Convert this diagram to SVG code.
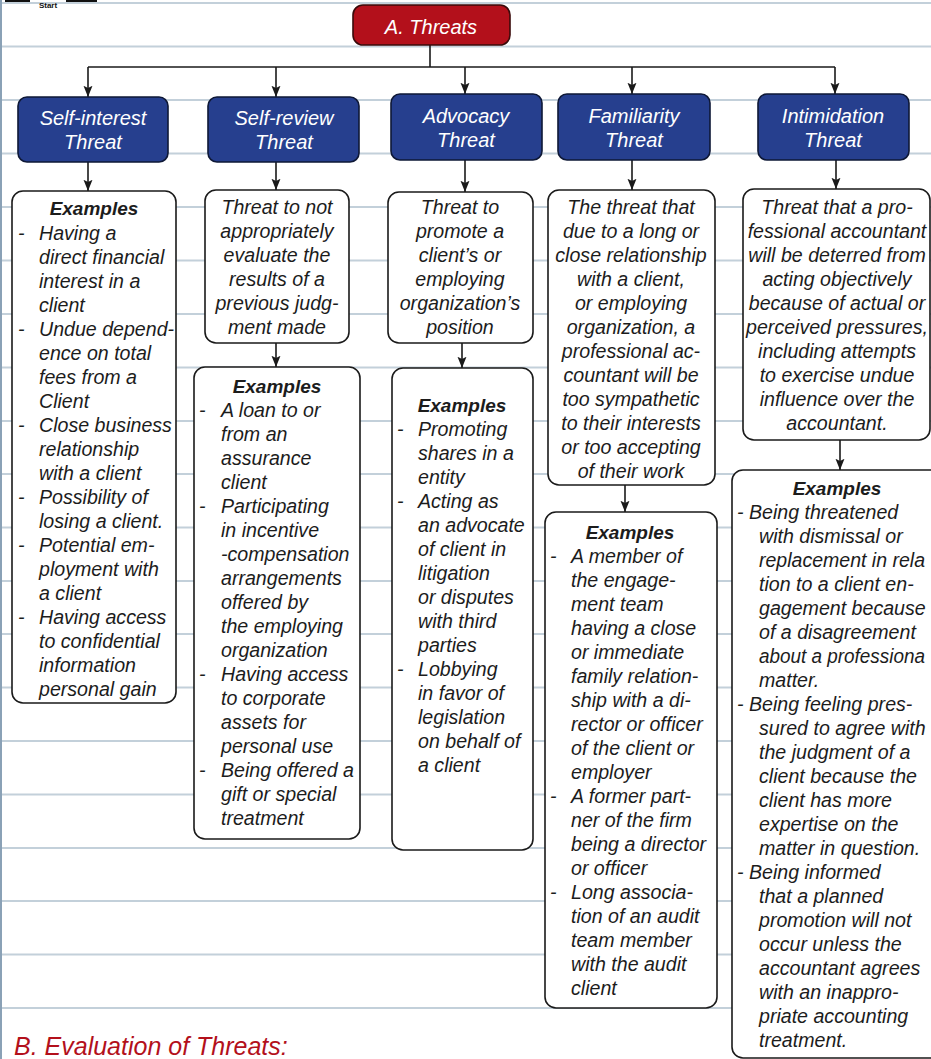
<svg xmlns="http://www.w3.org/2000/svg" width="931" height="1059" viewBox="0 0 931 1059">
<defs>
<style>
.bg{stroke:#c3d0da;stroke-width:2}
.t{font-family:"Liberation Sans",Arial,sans-serif;font-style:italic;font-size:19.6px;fill:#1c1c1c}
.c{text-anchor:middle}
.h{font-weight:bold;font-size:19px}
.w{font-family:"Liberation Sans",Arial,sans-serif;font-style:italic;font-size:20px;fill:#ffffff;text-anchor:middle}
.box{fill:#ffffff;stroke:#1a1a1a;stroke-width:1.6}
.blue{fill:#263f8e;stroke:#0e1836;stroke-width:1.6}
.red{fill:#b3101b;stroke:#3a0a0a;stroke-width:1.6}
.con{stroke:#1a1a1a;stroke-width:1.6;fill:none}
</style>
<marker id="ad" markerUnits="userSpaceOnUse" markerWidth="12" markerHeight="16" refX="15" refY="6" orient="auto" viewBox="0 0 16 12">
<path d="M0,0 L15,6 L0,12 L3,6 Z" fill="#1a1a1a"/>
</marker>
</defs>
<rect x="0" y="0" width="931" height="1059" fill="#ffffff"/>
<g id="background">
<line class="bg" x1="0" y1="3" x2="931" y2="3"/>
<line class="bg" x1="0" y1="46.5" x2="931" y2="46.5"/>
<line class="bg" x1="0" y1="100" x2="931" y2="100"/>
<line class="bg" x1="0" y1="153.5" x2="931" y2="153.5"/>
<line class="bg" x1="0" y1="207" x2="931" y2="207"/>
<line class="bg" x1="0" y1="260.5" x2="931" y2="260.5"/>
<line class="bg" x1="0" y1="314" x2="931" y2="314"/>
<line class="bg" x1="0" y1="367.5" x2="931" y2="367.5"/>
<line class="bg" x1="0" y1="421" x2="931" y2="421"/>
<line class="bg" x1="0" y1="474" x2="931" y2="474"/>
<line class="bg" x1="0" y1="527.5" x2="931" y2="527.5"/>
<line class="bg" x1="0" y1="581" x2="931" y2="581"/>
<line class="bg" x1="0" y1="634" x2="931" y2="634"/>
<line class="bg" x1="0" y1="687.5" x2="931" y2="687.5"/>
<line class="bg" x1="0" y1="741" x2="931" y2="741"/>
<line class="bg" x1="0" y1="794.5" x2="931" y2="794.5"/>
<line class="bg" x1="0" y1="848" x2="931" y2="848"/>
<line class="bg" x1="0" y1="901" x2="931" y2="901"/>
<line class="bg" x1="0" y1="954.5" x2="931" y2="954.5"/>
<line class="bg" x1="0" y1="1008" x2="931" y2="1008"/>
<line x1="1" y1="0" x2="1" y2="1059" stroke="#8aa1b6" stroke-width="2"/>
<line x1="5" y1="1" x2="30" y2="1" stroke="#111" stroke-width="2"/>
<line x1="66" y1="1" x2="97" y2="1" stroke="#111" stroke-width="2"/>
<text x="48" y="8" font-family="Liberation Sans,Arial,sans-serif" font-size="8" font-weight="bold" text-anchor="middle" fill="#111">Start</text>
</g>
<g id="connectors">
<path class="con" d="M430,45 V67"/>
<path class="con" d="M88,67 H835"/>
<path class="con" d="M88,67 V97" marker-end="url(#ad)"/>
<path class="con" d="M276,67 V97" marker-end="url(#ad)"/>
<path class="con" d="M465,67 V94" marker-end="url(#ad)"/>
<path class="con" d="M632,67 V94" marker-end="url(#ad)"/>
<path class="con" d="M835,67 V94" marker-end="url(#ad)"/>
<path class="con" d="M88,162 V191" marker-end="url(#ad)"/>
<path class="con" d="M276,162 V190" marker-end="url(#ad)"/>
<path class="con" d="M465,160 V192" marker-end="url(#ad)"/>
<path class="con" d="M632,160 V190" marker-end="url(#ad)"/>
<path class="con" d="M836,160 V189" marker-end="url(#ad)"/>
<path class="con" d="M276,343 V367" marker-end="url(#ad)"/>
<path class="con" d="M462,343 V368" marker-end="url(#ad)"/>
<path class="con" d="M625,485 V512" marker-end="url(#ad)"/>
<path class="con" d="M840,440 V470" marker-end="url(#ad)"/>
</g>
<g id="threats">
<rect class="red" x="353" y="5" width="157" height="40" rx="10"/>
<text class="w" x="431" y="34">A. Threats</text>
</g>
<g id="self-interest">
<rect class="blue" x="18" y="97" width="150" height="65" rx="9"/>
<text class="w" x="93" y="125">Self-interest</text>
<text class="w" x="93" y="149">Threat</text>
</g>
<g id="self-review">
<rect class="blue" x="208" y="97" width="151" height="65" rx="9"/>
<text class="w" x="284" y="125">Self-review</text>
<text class="w" x="284" y="149">Threat</text>
</g>
<g id="advocacy">
<rect class="blue" x="391" y="94" width="151" height="66" rx="9"/>
<text class="w" x="466" y="123">Advocacy</text>
<text class="w" x="466" y="147">Threat</text>
</g>
<g id="familiarity">
<rect class="blue" x="558" y="94" width="152" height="66" rx="9"/>
<text class="w" x="634" y="123">Familiarity</text>
<text class="w" x="634" y="147">Threat</text>
</g>
<g id="intimidation">
<rect class="blue" x="758" y="94" width="151" height="66" rx="9"/>
<text class="w" x="833" y="123">Intimidation</text>
<text class="w" x="833" y="147">Threat</text>
</g>
<g id="self-interest-examples">
<rect class="box" x="12" y="191" width="164" height="512" rx="11"/>
<text class="t h c" x="94" y="215">Examples</text>
<text class="t" x="18" y="240">-</text><text class="t" x="39" y="240">Having a</text>
<text class="t" x="39" y="264">direct financial</text>
<text class="t" x="39" y="288">interest in a</text>
<text class="t" x="39" y="312">client</text>
<text class="t" x="18" y="336">-</text><text class="t" x="39" y="336">Undue depend-</text>
<text class="t" x="39" y="360">ence on total</text>
<text class="t" x="39" y="384">fees from a</text>
<text class="t" x="39" y="408">Client</text>
<text class="t" x="18" y="432">-</text><text class="t" x="39" y="432">Close business</text>
<text class="t" x="39" y="456">relationship</text>
<text class="t" x="39" y="480">with a client</text>
<text class="t" x="18" y="504">-</text><text class="t" x="39" y="504">Possibility of</text>
<text class="t" x="39" y="528">losing a client.</text>
<text class="t" x="18" y="552">-</text><text class="t" x="39" y="552">Potential em-</text>
<text class="t" x="39" y="576">ployment with</text>
<text class="t" x="39" y="600">a client</text>
<text class="t" x="18" y="624">-</text><text class="t" x="39" y="624">Having access</text>
<text class="t" x="39" y="648">to confidential</text>
<text class="t" x="39" y="672">information</text>
<text class="t" x="39" y="696">personal gain</text>
</g>
<g id="self-review-definition">
<rect class="box" x="205" y="190" width="144" height="153" rx="11"/>
<text class="t c" x="277" y="214">Threat to not</text>
<text class="t c" x="277" y="238">appropriately</text>
<text class="t c" x="277" y="262">evaluate the</text>
<text class="t c" x="277" y="286">results of a</text>
<text class="t c" x="277" y="310">previous judg-</text>
<text class="t c" x="277" y="334">ment made</text>
</g>
<g id="self-review-examples">
<rect class="box" x="194" y="367" width="166" height="472" rx="11"/>
<text class="t h c" x="277" y="393">Examples</text>
<text class="t" x="199" y="417">-</text><text class="t" x="221" y="417">A loan to or</text>
<text class="t" x="221" y="441">from an</text>
<text class="t" x="221" y="465">assurance</text>
<text class="t" x="221" y="489">client</text>
<text class="t" x="199" y="513">-</text><text class="t" x="221" y="513">Participating</text>
<text class="t" x="221" y="537">in incentive</text>
<text class="t" x="221" y="561">-compensation</text>
<text class="t" x="221" y="585">arrangements</text>
<text class="t" x="221" y="609">offered by</text>
<text class="t" x="221" y="633">the employing</text>
<text class="t" x="221" y="657">organization</text>
<text class="t" x="199" y="681">-</text><text class="t" x="221" y="681">Having access</text>
<text class="t" x="221" y="705">to corporate</text>
<text class="t" x="221" y="729">assets for</text>
<text class="t" x="221" y="753">personal use</text>
<text class="t" x="199" y="777">-</text><text class="t" x="221" y="777">Being offered a</text>
<text class="t" x="221" y="801">gift or special</text>
<text class="t" x="221" y="825">treatment</text>
</g>
<g id="advocacy-definition">
<rect class="box" x="388" y="192" width="145" height="151" rx="11"/>
<text class="t c" x="460" y="214">Threat to</text>
<text class="t c" x="460" y="238">promote a</text>
<text class="t c" x="460" y="262">client’s or</text>
<text class="t c" x="460" y="286">employing</text>
<text class="t c" x="460" y="310">organization’s</text>
<text class="t c" x="460" y="334">position</text>
</g>
<g id="advocacy-examples">
<rect class="box" x="392" y="368" width="141" height="482" rx="11"/>
<text class="t h c" x="462" y="412">Examples</text>
<text class="t" x="397" y="436">-</text><text class="t" x="418" y="436">Promoting</text>
<text class="t" x="418" y="460">shares in a</text>
<text class="t" x="418" y="484">entity</text>
<text class="t" x="397" y="508">-</text><text class="t" x="418" y="508">Acting as</text>
<text class="t" x="418" y="532">an advocate</text>
<text class="t" x="418" y="556">of client in</text>
<text class="t" x="418" y="580">litigation</text>
<text class="t" x="418" y="604">or disputes</text>
<text class="t" x="418" y="628">with third</text>
<text class="t" x="418" y="652">parties</text>
<text class="t" x="397" y="676">-</text><text class="t" x="418" y="676">Lobbying</text>
<text class="t" x="418" y="700">in favor of</text>
<text class="t" x="418" y="724">legislation</text>
<text class="t" x="418" y="748">on behalf of</text>
<text class="t" x="418" y="772">a client</text>
</g>
<g id="familiarity-definition">
<rect class="box" x="548" y="190" width="167" height="295" rx="11"/>
<text class="t c" x="631" y="214">The threat that</text>
<text class="t c" x="631" y="238">due to a long or</text>
<text class="t c" x="631" y="262">close relationship</text>
<text class="t c" x="631" y="286">with a client,</text>
<text class="t c" x="631" y="310">or employing</text>
<text class="t c" x="631" y="334">organization, a</text>
<text class="t c" x="631" y="358">professional ac-</text>
<text class="t c" x="631" y="382">countant will be</text>
<text class="t c" x="631" y="406">too sympathetic</text>
<text class="t c" x="631" y="430">to their interests</text>
<text class="t c" x="631" y="454">or too accepting</text>
<text class="t c" x="631" y="478">of their work</text>
</g>
<g id="familiarity-examples">
<rect class="box" x="545" y="512" width="172" height="496" rx="11"/>
<text class="t h c" x="630" y="539">Examples</text>
<text class="t" x="550" y="563">-</text><text class="t" x="571" y="563">A member of</text>
<text class="t" x="571" y="587">the engage-</text>
<text class="t" x="571" y="611">ment team</text>
<text class="t" x="571" y="635">having a close</text>
<text class="t" x="571" y="659">or immediate</text>
<text class="t" x="571" y="683">family relation-</text>
<text class="t" x="571" y="707">ship with a di-</text>
<text class="t" x="571" y="731">rector or officer</text>
<text class="t" x="571" y="755">of the client or</text>
<text class="t" x="571" y="779">employer</text>
<text class="t" x="550" y="803">-</text><text class="t" x="571" y="803">A former part-</text>
<text class="t" x="571" y="827">ner of the firm</text>
<text class="t" x="571" y="851">being a director</text>
<text class="t" x="571" y="875">or officer</text>
<text class="t" x="550" y="899">-</text><text class="t" x="571" y="899">Long associa-</text>
<text class="t" x="571" y="923">tion of an audit</text>
<text class="t" x="571" y="947">team member</text>
<text class="t" x="571" y="971">with the audit</text>
<text class="t" x="571" y="995">client</text>
</g>
<g id="intimidation-definition">
<rect class="box" x="743" y="189" width="187" height="251" rx="11"/>
<text class="t c" x="837" y="214">Threat that a pro-</text>
<text class="t c" x="837" y="238">fessional accountant</text>
<text class="t c" x="837" y="262">will be deterred from</text>
<text class="t c" x="837" y="286">acting objectively</text>
<text class="t c" x="837" y="310">because of actual or</text>
<text class="t c" x="837" y="334">perceived pressures,</text>
<text class="t c" x="837" y="358">including attempts</text>
<text class="t c" x="837" y="382">to exercise undue</text>
<text class="t c" x="837" y="406">influence over the</text>
<text class="t c" x="837" y="430">accountant.</text>
</g>
<g id="intimidation-examples">
<rect class="box" x="732" y="470" width="220" height="588" rx="11"/>
<text class="t h c" x="837" y="495">Examples</text>
<text class="t" x="737" y="519">- Being threatened</text>
<text class="t" x="759" y="543">with dismissal or</text>
<text class="t" x="759" y="567" textLength="166" lengthAdjust="spacingAndGlyphs">replacement in rela</text>
<text class="t" x="759" y="591">tion to a client en-</text>
<text class="t" x="759" y="615">gagement because</text>
<text class="t" x="759" y="639">of a disagreement</text>
<text class="t" x="759" y="663" textLength="166" lengthAdjust="spacingAndGlyphs">about a professiona</text>
<text class="t" x="759" y="687">matter.</text>
<text class="t" x="737" y="711">- Being feeling pres-</text>
<text class="t" x="759" y="735">sured to agree with</text>
<text class="t" x="759" y="759">the judgment of a</text>
<text class="t" x="759" y="783">client because the</text>
<text class="t" x="759" y="807">client has more</text>
<text class="t" x="759" y="831">expertise on the</text>
<text class="t" x="759" y="855">matter in question.</text>
<text class="t" x="737" y="879">- Being informed</text>
<text class="t" x="759" y="903">that a planned</text>
<text class="t" x="759" y="927">promotion will not</text>
<text class="t" x="759" y="951">occur unless the</text>
<text class="t" x="759" y="975">accountant agrees</text>
<text class="t" x="759" y="999">with an inappro-</text>
<text class="t" x="759" y="1023">priate accounting</text>
<text class="t" x="759" y="1047">treatment.</text>
</g>
<g id="section-b">
<text x="14" y="1055" font-family="Liberation Sans,Arial,sans-serif" font-style="italic" font-size="25" fill="#b3101b">B. Evaluation of Threats:</text>
</g>
</svg>
